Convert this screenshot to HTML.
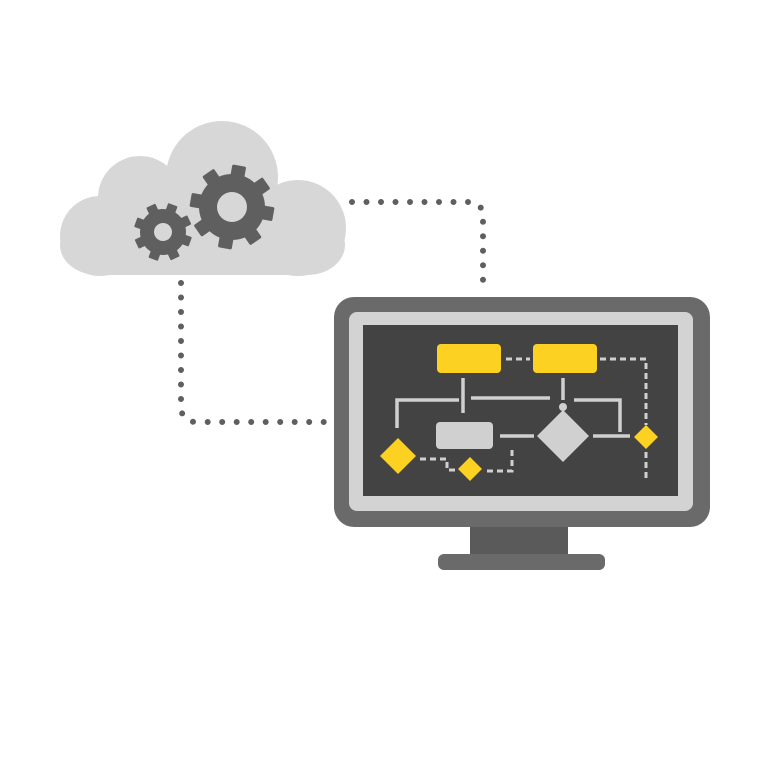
<!DOCTYPE html>
<html><head><style>html,body{margin:0;padding:0;background:#fff}svg{display:block}</style></head>
<body>
<svg width="768" height="768" viewBox="0 0 768 768" xmlns="http://www.w3.org/2000/svg">
<!-- cloud -->
<g fill="#d7d7d7">
<circle cx="100" cy="236" r="40"/>
<circle cx="140" cy="198" r="42"/>
<circle cx="222" cy="177" r="56"/>
<circle cx="298" cy="228" r="48"/>
<rect x="60" y="215" width="285" height="60" rx="38"/>
<rect x="100" y="190" width="210" height="85"/>
</g>
<!-- small gear -->
<g fill="#5f5f5f" transform="translate(163,232) rotate(20)">
<circle r="23"/>
<g id="st"><rect x="-5" y="-29" width="10" height="10" rx="1"/></g>
<use href="#st" transform="rotate(45)"/><use href="#st" transform="rotate(90)"/><use href="#st" transform="rotate(135)"/>
<use href="#st" transform="rotate(180)"/><use href="#st" transform="rotate(225)"/><use href="#st" transform="rotate(270)"/><use href="#st" transform="rotate(315)"/>
<circle r="9" fill="#d7d7d7"/>
</g>
<!-- big gear -->
<g fill="#5f5f5f" transform="translate(232,207) rotate(10)">
<circle r="33"/>
<g id="bt"><rect x="-7" y="-42" width="14" height="14" rx="1.5"/></g>
<use href="#bt" transform="rotate(45)"/><use href="#bt" transform="rotate(90)"/><use href="#bt" transform="rotate(135)"/>
<use href="#bt" transform="rotate(180)"/><use href="#bt" transform="rotate(225)"/><use href="#bt" transform="rotate(270)"/><use href="#bt" transform="rotate(315)"/>
<circle r="15" fill="#d7d7d7"/>
</g>
<!-- dotted connectors -->
<g fill="none" stroke="#5f5f5f" stroke-width="6" stroke-linecap="round" stroke-dasharray="0 14.5">
<path d="M352 202 H468 Q483 202 483 217 V292"/>
<path d="M181 283 V406 Q181 422 197 422 H326"/>
</g>
<!-- monitor -->
<rect x="334" y="297" width="376" height="230" rx="20" fill="#6a6a6a"/>
<rect x="349" y="312" width="344" height="199" rx="8" fill="#d3d3d3"/>
<rect x="363" y="325" width="315" height="171" fill="#434343"/>
<rect x="470" y="527" width="98" height="29" fill="#5a5a5a"/>
<rect x="438" y="554" width="167" height="16" rx="6" fill="#6a6a6a"/>
<!-- screen content -->
<rect x="437" y="344" width="64" height="29" rx="4" fill="#fcd122"/>
<rect x="533" y="344" width="64" height="29" rx="4" fill="#fcd122"/>
<g fill="none" stroke="#d0d0d0" stroke-width="3.5">
<path d="M463 378 V413"/>
<path d="M459 400 H397 V428"/>
<path d="M471 398 H550"/>
<path d="M563 378 V400"/>
<path d="M574 400 H620 V432"/>
<path d="M500 436 H534"/>
<path d="M593 436 H630"/>
</g>
<circle cx="563" cy="407" r="4" fill="#d0d0d0"/>
<g fill="none" stroke="#d0d0d0" stroke-width="3" stroke-dasharray="6 4">
<path d="M506 359 H530"/>
<path d="M600 359 H646 V425"/>
<path d="M646 452 V480"/>
<path d="M420 459 H447 V470 H458"/>
<path d="M487 471 H512 V449"/>
</g>
<rect x="436" y="422" width="57" height="27" rx="4" fill="#d0d0d0"/>
<polygon points="563,410 589,436 563,462 537,436" fill="#d0d0d0"/>
<polygon points="398,438 416,456 398,474 380,456" fill="#fcd122"/>
<polygon points="470,457 482,469 470,481 458,469" fill="#fcd122"/>
<polygon points="646,425 658,437 646,449 634,437" fill="#fcd122"/>
</svg>
</body></html>
